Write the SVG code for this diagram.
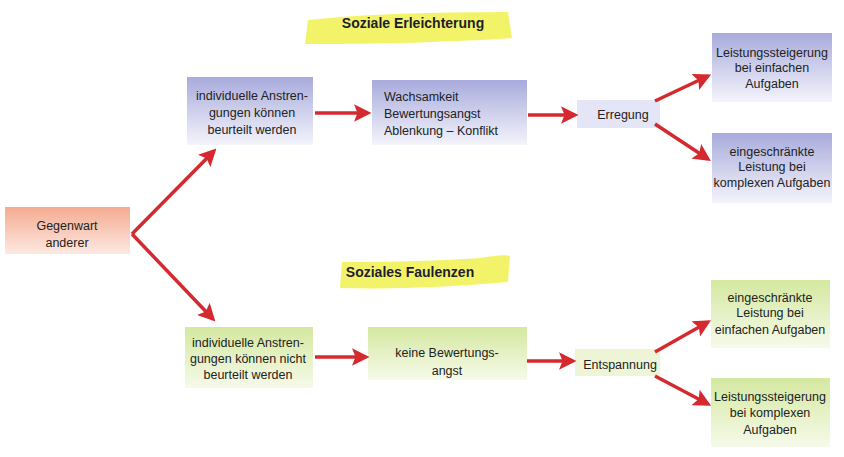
<svg xmlns="http://www.w3.org/2000/svg" width="844" height="457" viewBox="0 0 844 457">
<defs>
<linearGradient id="gBlue" x1="0" y1="0" x2="0" y2="1"><stop offset="0" stop-color="#a8abdc"/><stop offset="1" stop-color="#f4f4fb"/></linearGradient>
<linearGradient id="gGreen" x1="0" y1="0" x2="0" y2="1"><stop offset="0" stop-color="#d4e8a0"/><stop offset="1" stop-color="#f6faea"/></linearGradient>
<linearGradient id="gRed" x1="0" y1="0" x2="0" y2="1"><stop offset="0" stop-color="#f4ab90"/><stop offset="1" stop-color="#fde9e2"/></linearGradient>
<marker id="ah" markerWidth="5" markerHeight="5" refX="4" refY="2.5" orient="auto" markerUnits="strokeWidth"><polygon points="0,0 5,2.5 0,5 1,2.5" fill="#d42a2f"/></marker>
</defs>
<style>
text{font-family:"Liberation Sans",Arial,sans-serif;font-size:12.5px;fill:#222;}
.c{text-anchor:middle;}
.t{font-size:14px;font-weight:bold;fill:#1e1e2e;text-anchor:middle;}
.ar{stroke:#d42a2f;stroke-width:3.5;fill:none;marker-end:url(#ah);}
.hl{fill:#f2f25a;opacity:0.9;}
</style>
<g id="title1"><path class="hl" d="M308,20 Q380,12 508,12 L512,38 Q420,44 305,44 Z"/><text class="t" x="413" y="28">Soziale Erleichterung</text></g>
<g id="title2"><path class="hl" d="M342,262 Q420,262 480,258 Q505,254 510,256 L508,282 Q420,290 340,288 Z"/><text class="t" x="410" y="277">Soziales Faulenzen</text></g>
<g id="gegenwart"><rect x="5" y="207" width="125" height="47" fill="url(#gRed)"/><text class="c" x="67" y="230">Gegenwart</text><text class="c" x="67" y="247">anderer</text></g>
<g id="b1"><rect x="187" y="77" width="126" height="68" fill="url(#gBlue)"/><text class="c" x="252" y="100">individuelle Anstren-</text><text class="c" x="252" y="117">gungen können</text><text class="c" x="252" y="134">beurteilt werden</text></g>
<g id="b2"><rect x="372" y="80" width="155" height="65" fill="url(#gBlue)"/><text x="384" y="101">Wachsamkeit</text><text x="384" y="118">Bewertungsangst</text><text x="384" y="135">Ablenkung – Konflikt</text></g>
<g id="erregung"><rect x="577" y="100" width="83" height="28" fill="#e4e5f6"/><text class="c" x="623" y="119">Erregung</text></g>
<g id="b3"><rect x="712" y="33" width="120" height="69" fill="url(#gBlue)"/><text class="c" x="772" y="57">Leistungssteigerung</text><text class="c" x="772" y="72">bei einfachen</text><text class="c" x="772" y="88">Aufgaben</text></g>
<g id="b4"><rect x="712" y="133" width="120" height="70" fill="url(#gBlue)"/><text class="c" x="772" y="156">eingeschränkte</text><text class="c" x="772" y="171">Leistung bei</text><text class="c" x="772" y="187">komplexen Aufgaben</text></g>
<g id="g1"><rect x="185" y="327" width="128" height="61" fill="url(#gGreen)"/><text class="c" x="248" y="347">individuelle Anstren-</text><text class="c" x="248" y="363">gungen können nicht</text><text class="c" x="248" y="379">beurteilt werden</text></g>
<g id="g2"><rect x="368" y="327" width="159" height="53" fill="url(#gGreen)"/><text class="c" x="447" y="357">keine Bewertungs-</text><text class="c" x="447" y="375">angst</text></g>
<g id="entspannung"><rect x="575" y="349" width="85" height="27" fill="#eef5d6"/><text class="c" x="620" y="369">Entspannung</text></g>
<g id="g3"><rect x="711" y="280" width="119" height="68" fill="url(#gGreen)"/><text class="c" x="770" y="302">eingeschränkte</text><text class="c" x="770" y="317">Leistung bei</text><text class="c" x="770" y="334">einfachen Aufgaben</text></g>
<g id="g4"><rect x="711" y="378" width="119" height="69" fill="url(#gGreen)"/><text class="c" x="770" y="401">Leistungssteigerung</text><text class="c" x="770" y="417">bei komplexen</text><text class="c" x="770" y="434">Aufgaben</text></g>
<g id="connectors">
<path class="ar" d="M132,234 L214,151"/>
<path class="ar" d="M132,234 L213,319"/>
<path class="ar" d="M315,113 L368,113"/>
<path class="ar" d="M528,115 L575,115"/>
<path class="ar" d="M655,101 L708,76"/>
<path class="ar" d="M655,124 L708,159"/>
<path class="ar" d="M315,357 L366,357"/>
<path class="ar" d="M527,361 L573,361"/>
<path class="ar" d="M655,352 L708,322"/>
<path class="ar" d="M655,376 L708,404"/>
</g>
</svg>
